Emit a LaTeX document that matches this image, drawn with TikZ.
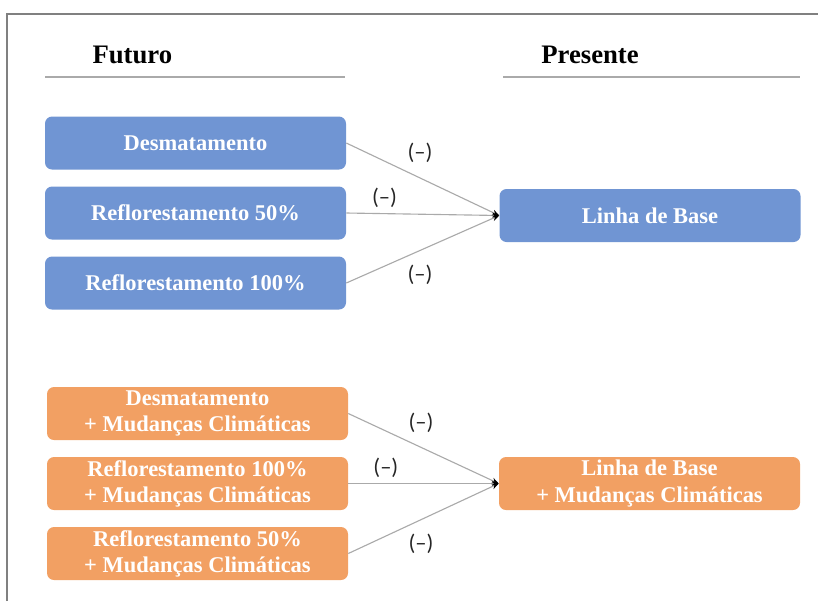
\documentclass[tikz,border=0pt]{standalone}
\usepackage{fontspec}
\setmainfont{Liberation Serif}
\newfontfamily\signfont{Carlito}
\usepackage{tikz}
\usetikzlibrary{arrows.meta}
\definecolor{boxblue}{RGB}{112,149,211}
\definecolor{boxorange}{RGB}{242,160,99}
\definecolor{rulegray}{RGB}{170,170,170}
\definecolor{framegray}{RGB}{128,128,128}

\begin{document}
\begin{tikzpicture}[>={Stealth[black,length=5pt,width=4pt]},auto,node distance=1.75cm,
    scen/.style={shape=rectangle,rounded corners=5pt,minimum width=7.525cm,minimum height=1.325cm,
        text=white,align=center,font=\bfseries\fontsize{16}{18.5}\selectfont,inner sep=2pt},
    blubox/.style={scen,fill=boxblue},
    orabox/.style={scen,fill=boxorange},
    link/.style={->,rulegray,line width=0.8pt},
    sign/.style={font=\signfont\fontsize{16}{18}\selectfont,text=black!85,inner sep=4pt},
    header/.style={font=\bfseries\fontsize{19}{21}\selectfont}]
	\useasboundingbox (0,0) rectangle (20.45,-15.025);
	% moldura
	\draw[framegray,line width=1pt] (0.175,-15.025) -- (0.175,-0.35) -- (20.45,-0.35);

	% cabecalhos
	\node (futuro) [header] at (3.31,-1.375) {Futuro};
	\node (presente) [header] at (14.75,-1.375) {Presente};
	\draw[rulegray,line width=0.8pt] (1.125,-1.925) -- (8.625,-1.925);
	\draw[rulegray,line width=0.8pt] (12.575,-1.925) -- (20.0,-1.925);

	% cenarios sem mudancas climaticas
	\node (desm) [blubox] at (4.8875,-3.575) {Desmatamento};
	\node (ref50) [blubox] [below of = desm] {Reflorestamento 50\%};
	\node (ref100) [blubox] [below of = ref50] {Reflorestamento 100\%};
	\node (base) [blubox] at (16.25,-5.3875) {Linha de Base};

	% cenarios com mudancas climaticas
	\node (desmcc) [orabox] at (4.9375,-10.3375) {Desmatamento\\+ Mudanças Climáticas};
	\node (ref100cc) [orabox] [below of = desmcc] {Reflorestamento 100\%\\+ Mudanças Climáticas};
	\node (ref50cc) [orabox] [below of = ref100cc] {Reflorestamento 50\%\\+ Mudanças Climáticas};
	\node (basecc) [orabox] at (16.2375,-12.0875) {Linha de Base\\+ Mudanças Climáticas};

	\path[link](desm.east) edge node [sign,pos=0.36] {(–)} (base.west);
	\path[link](ref50.east) edge node [sign,pos=0.25] {(–)} (base.west);
	\path[link](ref100.east) edge node [sign,pos=0.36,swap] {(–)} (base.west);

	\path[link](desmcc.east) edge node [sign,pos=0.36] {(–)} (basecc.west);
	\path[link](ref100cc.east) edge node [sign,pos=0.25] {(–)} (basecc.west);
	\path[link](ref50cc.east) edge node [sign,pos=0.36,swap] {(–)} (basecc.west);
\end{tikzpicture}
\end{document}
